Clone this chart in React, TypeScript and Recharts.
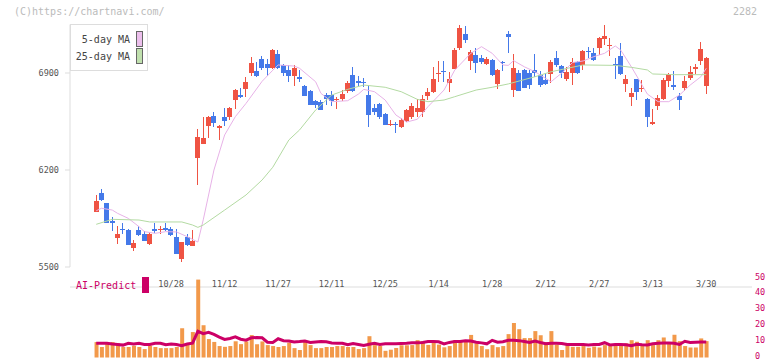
import React from 'react';
import { ComposedChart, Bar, Line, XAxis, YAxis } from 'recharts';

// daily candles (index 0 = first candle)
const opens = [5900,6035,5960,5835,5710,5775,5765,5635,5765,5740,5665,5775,5765,5785,5775,5720,5560,5720,5655,6285,6390,6515,6590,6500,6580,6585,6705,6740,6785,6900,6915,7000,6965,6935,7035,6960,6920,6880,6870,6805,6770,6700,6690,6740,6740,6705,6715,6770,6885,6840,6835,6740,6650,6675,6605,6525,6535,6510,6555,6580,6615,6615,6735,6760,6890,6915,6830,6930,7080,7180,6990,7030,7005,6965,6995,6820,6980,7185,6775,6900,6925,6900,6920,6885,6850,6895,7005,6950,6855,6900,6980,6955,7060,7045,7080,7145,7100,6965,7025,6820,6730,6855,6785,6715,6530,6660,6710,6840,6810,6735,6795,6865,6930,6990,6805];
const highs = [6020,6065,5965,5860,5795,5820,5775,5695,5795,5760,5750,5820,5795,5820,5790,5775,5680,5740,5765,6495,6580,6590,6615,6525,6645,6655,6785,6795,6870,7015,6980,7025,7000,7070,7065,6965,6960,6960,6920,6815,6775,6705,6705,6755,6770,6730,6780,6840,6940,6875,6865,6815,6675,6685,6610,6560,6550,6575,6640,6685,6715,6740,6795,6945,6990,6985,6905,7080,7250,7240,7065,7080,7030,7015,7000,6930,6990,7205,7035,6920,6930,6925,7035,6915,6900,6995,7060,6960,6940,7005,6985,7065,7090,7080,7160,7250,7150,7005,7120,6885,6795,6860,6850,6720,6640,6740,6865,6900,6915,6755,6880,6950,6965,7125,7015];
const lows = [5895,5975,5815,5760,5665,5740,5660,5615,5725,5690,5660,5745,5740,5760,5725,5595,5535,5655,5655,6090,6385,6430,6510,6415,6520,6560,6640,6720,6730,6880,6870,6925,6880,6930,6930,6880,6835,6805,6835,6735,6670,6645,6630,6670,6665,6640,6700,6755,6760,6805,6800,6510,6595,6565,6525,6515,6465,6505,6550,6565,6580,6585,6705,6755,6835,6835,6765,6930,7065,7120,6920,6900,6965,6960,6880,6785,6915,7045,6730,6770,6790,6785,6870,6800,6815,6825,6945,6865,6840,6815,6890,6920,7005,6990,7030,7100,7025,6860,6885,6760,6660,6705,6765,6510,6525,6635,6705,6800,6775,6635,6770,6850,6895,6955,6745];
const closes = [5975,5980,5820,5815,5740,5765,5660,5675,5730,5690,5740,5760,5775,5765,5730,5595,5680,5660,5690,6440,6430,6580,6540,6520,6555,6650,6780,6725,6835,6970,6875,6935,6935,7065,6935,6900,6880,6935,6860,6735,6670,6670,6635,6710,6700,6715,6750,6825,6770,6830,6825,6595,6620,6585,6525,6535,6525,6560,6635,6660,6650,6710,6760,6860,6900,6910,6855,7065,7225,7135,7050,6970,6980,7000,6885,6920,6970,7160,6935,6770,6795,6815,6900,6815,6820,6980,6960,6900,6905,6980,6900,7060,7050,6995,7155,7165,7105,6955,6890,6855,6755,6760,6795,6585,6545,6720,6850,6895,6800,6705,6845,6905,6940,7075,7005];

const volumes = [9.7,6.6,8.9,9.7,8.9,6.6,6.6,7.4,6.6,5.3,7.4,6.6,5.9,5.9,5.9,6.6,18.4,8.0,16.0,49.0,20.3,11.6,9.8,7.2,6.7,7.2,10.2,8.4,10.1,14.1,8.4,10.1,7.8,7.2,6.6,7.2,9.3,5.9,4.7,9.7,7.8,5.9,5.9,6.6,6.6,7.2,7.2,6.6,6.6,5.3,5.9,13.4,7.8,7.2,4.2,4.9,6.0,7.7,7.7,7.8,10.9,10.3,7.9,9.7,8.1,6.4,7.2,10.9,9.9,10.9,14.2,8.9,7.2,5.2,7.8,6.5,7.2,14.7,21.7,17.8,12.2,12.2,16.6,14.0,9.7,16.6,8.1,4.7,7.8,6.7,6.7,7.2,6.1,6.9,6.3,7.8,7.2,7.8,7.8,8.9,10.9,9.9,7.8,10.9,7.8,10.9,12.6,8.9,14.3,10.3,7.2,6.3,6.3,12.0,10.3];
const aiPredict = [8.9,8.9,8.9,8.5,8.2,7.8,8.9,8.5,8.9,8.2,8.2,9.0,8.9,8.0,8.5,8.2,7.4,8.5,9.0,16.5,15.0,15.8,14.5,12.8,11.4,12.0,13.0,11.5,10.9,12.4,12.6,12.4,9.6,9.5,11.8,10.6,10.4,9.8,10.0,10.4,9.4,9.7,10.0,9.9,9.1,9.0,9.0,8.0,8.8,8.2,7.5,8.3,8.9,8.2,8.6,8.7,8.7,8.8,8.9,9.2,9.3,9.5,10.0,10.0,9.9,8.6,9.5,10.0,10.1,10.5,10.4,9.6,9.2,8.6,10.8,9.6,9.9,10.8,10.9,10.6,10.0,9.4,10.4,9.4,8.6,9.0,9.0,8.8,8.2,8.2,8.2,8.1,7.8,8.2,8.2,9.3,7.9,8.2,8.2,8.0,7.4,8.3,8.0,7.9,8.7,9.0,9.1,9.1,9.0,8.2,10.2,9.5,9.6,9.7,9.7];

// moving averages, read at points along the drawn lines: [candle index, price]
const ma5Points: [number, number][] = [[0,5906],[1,5924],[3,5911],[4,5887],[6,5851],[8,5791],[9,5755],[11,5743],[13,5755],[15,5753],[17,5719],[19,5680],[20,5840],[22,6200],[24,6453],[26,6585],[28,6681],[31,6840],[33,6920],[34,6958],[37,6950],[38,6934],[41,6837],[42,6753],[44,6693],[47,6700],[49,6748],[50,6782],[52,6765],[54,6705],[56,6597],[58,6546],[60,6566],[62,6657],[65,6777],[67,6921],[70,7042],[72,7090],[74,7042],[76,6958],[77,6955],[78,6989],[80,6945],[82,6909],[85,6837],[87,6900],[89,6975],[91,6987],[93,7018],[95,7042],[97,7095],[98,7066],[100,6945],[102,6813],[103,6748],[105,6693],[107,6693],[109,6741],[111,6813],[113,6873],[114,6934]];
const ma25Points: [number, number][] = [[0,5808],[3,5844],[8,5839],[10,5825],[16,5825],[18,5803],[19,5786],[20,5803],[24,5911],[28,6020],[31,6128],[33,6220],[36,6417],[38,6489],[41,6633],[44,6741],[47,6782],[50,6813],[54,6797],[57,6765],[60,6710],[62,6693],[65,6705],[67,6729],[71,6777],[74,6797],[77,6821],[82,6873],[85,6909],[91,6958],[97,6955],[100,6941],[103,6922],[104,6893],[108,6888],[114,6888]];

const dateTicks = [14, 24, 34, 44, 54, 64, 74, 84, 94, 104, 114];
const dateLabels = ['10/28', '11/12', '11/27', '12/11', '12/25', '1/14', '1/28', '2/12', '2/27', '3/13', '3/30'];
const priceTicks = [5500, 6200, 6900];
const volumeTicks = [0, 10, 20, 30, 40, 50];

const X_MIN = -4.9;
const X_MAX = 122.55;
const sepTicks = Array.from({ length: 12 }, (_, k) => X_MIN + (k * (X_MAX - X_MIN)) / 11);

const RED = '#ef5343';
const BLUE = '#4479e9';
const MONO = '"DejaVu Sans Mono", monospace';

const ma5Map = new Map(ma5Points);
const ma25Map = new Map(ma25Points);
const rows = opens.map((o, i) => ({
  i,
  open: o,
  high: highs[i],
  low: lows[i],
  close: closes[i],
  volume: volumes[i],
  ai: aiPredict[i],
  ma5: ma5Map.has(i) ? ma5Map.get(i) : null,
  ma25: ma25Map.has(i) ? ma25Map.get(i) : null,
}));

function Candle(props: any) {
  const { x, y, width, height, payload } = props;
  const { open, close, high, low } = payload;
  const color = close >= open ? RED : BLUE;
  const top = Math.min(y, y + height);
  const h = Math.abs(height);
  const k = high === low ? 0 : h / (high - low);
  const bodyTop = top + (high - Math.max(open, close)) * k;
  const bodyBot = top + (high - Math.min(open, close)) * k;
  const bx = Math.round(x);
  const cx = bx + Math.floor(width / 2) + 0.5;
  return (
    <g shapeRendering="crispEdges">
      <line x1={cx} x2={cx} y1={top} y2={top + h} stroke={color} strokeWidth={1} />
      <rect x={bx} y={bodyTop} width={width} height={Math.max(1.3, bodyBot - bodyTop)} fill={color} />
    </g>
  );
}

const tickStyle = { fontSize: 8.5, fontFamily: MONO, fill: '#555' };

export default function App() {
  return (
    <div style={{ position: 'absolute', left: 0, top: 0, width: 772, height: 361, background: '#fff', fontFamily: MONO }}>
      <div style={{ position: 'absolute', left: 14, top: 6, fontSize: 10, lineHeight: '12px', color: '#bbb' }}>(C)https://chartnavi.com/</div>
      <div style={{ position: 'absolute', right: 15, top: 6, fontSize: 10, lineHeight: '12px', color: '#bbb' }}>2282</div>

      <div style={{ position: 'absolute', left: 0, top: 0 }}>
        <ComposedChart width={772} height={293} data={rows} margin={{ top: 24.5, right: 20, bottom: 0, left: 0 }}>
          <XAxis xAxisId="sep" dataKey="i" type="number" domain={[X_MIN, X_MAX]} allowDataOverflow ticks={sepTicks}
            tick={false} height={6} tickSize={3} stroke="#ddd" />
          <XAxis xAxisId="lab" dataKey="i" type="number" domain={[X_MIN, X_MAX]} allowDataOverflow ticks={dateTicks}
            interval={0} axisLine={false} tickLine={false} tickSize={0} tickMargin={14} height={20}
            tickFormatter={(v: number) => dateLabels[dateTicks.indexOf(v)] ?? ''} tick={tickStyle} />
          <YAxis domain={[5500, 7250]} allowDataOverflow ticks={priceTicks} width={70} tickSize={5} tickMargin={6}
            stroke="#ddd" tick={tickStyle} />
          <Bar xAxisId="sep" dataKey={(d: any) => [d.low, d.high]} barSize={5} shape={Candle} isAnimationActive={false} />
          <Line xAxisId="sep" dataKey="ma5" stroke="#e7b2e7" strokeWidth={1} dot={false} connectNulls isAnimationActive={false} />
          <Line xAxisId="sep" dataKey="ma25" stroke="#b3daa2" strokeWidth={1} dot={false} connectNulls isAnimationActive={false} />
        </ComposedChart>
      </div>

      <div style={{ position: 'absolute', left: 0, top: 270 }}>
        <ComposedChart width={772} height={91} data={rows} margin={{ top: 8, right: 0, bottom: 3.5, left: 70 }} style={{ overflow: 'visible' }}>
          <XAxis dataKey="i" type="number" domain={[X_MIN, X_MAX]} allowDataOverflow hide />
          <YAxis orientation="right" domain={[0, 50]} ticks={volumeTicks} interval={0} width={20} axisLine={false} tickLine={false}
            tickSize={0} tickMargin={3} tick={{ ...tickStyle, fill: '#cc0066', dy: -1.5 }} />
          <Bar dataKey="volume" fill="#f2994a" barSize={4} isAnimationActive={false} />
          <Line dataKey="ai" stroke="#cc0066" strokeWidth={3} dot={false} isAnimationActive={false} />
        </ComposedChart>
      </div>

      <div style={{ position: 'absolute', left: 70, top: 24, width: 78, height: 47, boxSizing: 'border-box', border: '1px solid #ddd', background: '#fff' }} />
      <div style={{ position: 'absolute', left: 70, top: 33, width: 60, textAlign: 'right', fontSize: 10, lineHeight: '14px', color: '#444' }}>5-day MA</div>
      <div style={{ position: 'absolute', left: 136, top: 31, width: 7, height: 16, boxSizing: 'border-box', border: '1px solid #666', background: '#ecbfec' }} />
      <div style={{ position: 'absolute', left: 70, top: 50, width: 60, textAlign: 'right', fontSize: 10, lineHeight: '14px', color: '#444' }}>25-day MA</div>
      <div style={{ position: 'absolute', left: 136, top: 48, width: 7, height: 16, boxSizing: 'border-box', border: '1px solid #666', background: '#c0e0ae' }} />

      <div style={{ position: 'absolute', left: 76, top: 279, fontSize: 10, lineHeight: '14px', color: '#cc0066' }}>AI-Predict</div>
      <div style={{ position: 'absolute', left: 142, top: 277, width: 7, height: 16, background: '#cc0066' }} />
    </div>
  );
}
